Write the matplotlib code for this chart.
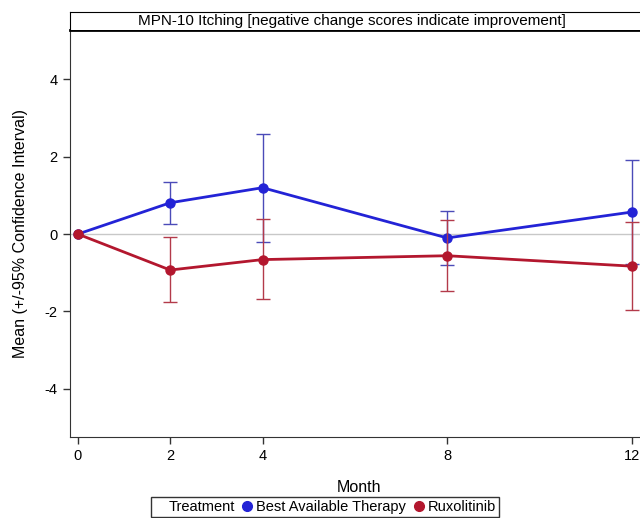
import matplotlib
matplotlib.use("Agg")
import matplotlib.pyplot as plt
from matplotlib.lines import Line2D

plt.rcParams['font.family'] = ['Liberation Sans', 'DejaVu Sans']
plt.rcParams['axes.unicode_minus'] = False

months = [0, 2, 4, 8, 12]
bat_mean = [0.0, 0.81, 1.20, -0.10, 0.57]
bat_lo = [0.0, 0.26, -0.21, -0.80, -0.77]
bat_hi = [0.0, 1.35, 2.60, 0.61, 1.91]
rux_mean = [0.0, -0.93, -0.66, -0.56, -0.83]
rux_lo = [0.0, -1.77, -1.69, -1.48, -1.97]
rux_hi = [0.0, -0.07, 0.38, 0.36, 0.31]
yticks = [-4, -2, 0, 2, 4]
title = "MPN-10 Itching [negative change scores indicate improvement]"

blue = '#2323D6'
red = '#B3172E'
blue_err = '#4B4BB8'
red_err = '#B33A4A'

fig = plt.figure(figsize=(6.4, 5.18), dpi=100)
W, H = 640, 518
ax = fig.add_axes([70 / W, (H - 437) / H, 578 / W, (437 - 30) / H])

ax.axhline(0, color='#c8c8c8', lw=1, zorder=1)

def draw(mean, lo, hi, c, ce, z):
    yerr = [[m - l for m, l in zip(mean, lo)], [h - m for m, h in zip(mean, hi)]]
    ax.errorbar(months[1:], mean[1:], yerr=[yerr[0][1:], yerr[1][1:]], fmt='none',
                ecolor=ce, elinewidth=1, capsize=5, capthick=1, zorder=z)
    ax.plot(months, mean, color=c, lw=2, marker='o', ms=6.5, zorder=z + 1)

draw(bat_mean, bat_lo, bat_hi, blue, blue_err, 3)
draw(rux_mean, rux_lo, rux_hi, red, red_err, 5)

ax.set_xlim(-0.17, 12.35)
ax.set_ylim(-5.25, 5.28)
ax.set_xticks(months)
ax.set_yticks(yticks)
ax.tick_params(labelsize=10.5, length=5, width=1, color='#333333', pad=4)
ax.spines['right'].set_visible(False)
ax.spines['top'].set_linewidth(2)
ax.spines['left'].set_color('#333333')
ax.spines['bottom'].set_color('#333333')
ax.set_xlabel('Month', fontsize=11.5, labelpad=12)
ax.set_ylabel('Mean (+/-95% Confidence Interval)', fontsize=11.5, labelpad=12)

hax = fig.add_axes([70 / W, (H - 30) / H, 578 / W, 18 / H])
hax.set_xticks([])
hax.set_yticks([])
hax.spines['right'].set_visible(False)
hax.spines['bottom'].set_visible(False)
hax.text((352 - 70) / 578, 0.5, title, transform=hax.transAxes,
         ha='center', va='center', fontsize=11)

handles = [Line2D([], [], ls='none'),
           Line2D([], [], ls='none', marker='o', color=blue, ms=7),
           Line2D([], [], ls='none', marker='o', color=red, ms=7)]
labels = ['Treatment', 'Best Available Therapy', 'Ruxolitinib']
leg = fig.legend(handles, labels, ncol=3, loc='center', bbox_to_anchor=(325 / W, (H - 507) / H),
                 frameon=True, fancybox=False, edgecolor='black', fontsize=10.5,
                 handlelength=0.7, handletextpad=0.3, columnspacing=0.5,
                 borderpad=0.2, borderaxespad=0)
leg.get_frame().set_linewidth(1)

fig.savefig('out.png', dpi=100)
